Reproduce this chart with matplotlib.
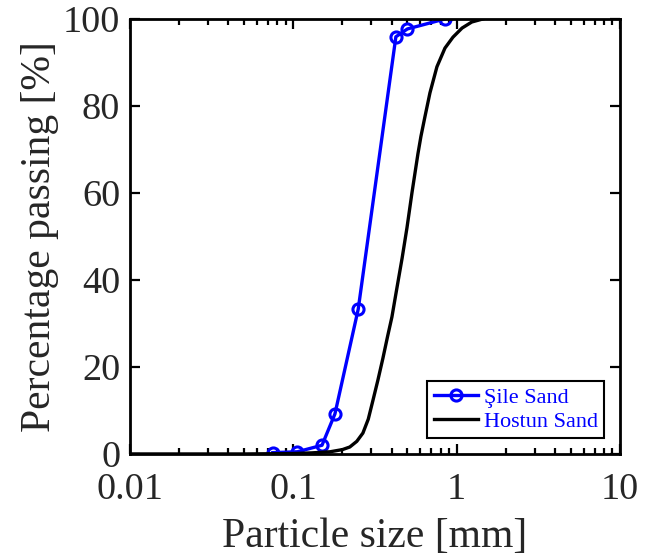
import matplotlib
matplotlib.use("Agg")
import matplotlib.pyplot as plt
from matplotlib.ticker import LogLocator, FixedLocator, NullFormatter

plt.rcParams['font.family'] = ['Liberation Serif', 'DejaVu Serif']

# Şile Sand (sieve data)
sile_size = [0.075, 0.106, 0.15, 0.18, 0.25, 0.425, 0.5, 0.85]
sile_pass = [0.3, 0.5, 2.0, 9.2, 33.3, 95.9, 97.7, 100.0]

# Hostun Sand (continuous gradation curve)
hostun_size = [0.01, 0.05, 0.1, 0.13, 0.168, 0.2, 0.222, 0.245, 0.267, 0.288, 0.308,
               0.33, 0.354, 0.378, 0.402, 0.426, 0.464, 0.497, 0.533, 0.58, 0.605,
               0.64, 0.687, 0.758, 0.849, 0.95, 1.08, 1.24, 1.45]
hostun_pass = [0.0, 0.0, 0.1, 0.25, 0.5, 1.0, 1.6, 2.9, 4.8, 8.0, 12.4,
               17.0, 22.0, 27.0, 31.5, 37.0, 45.0, 52.0, 60.0, 69.0, 73.0,
               77.5, 83.0, 89.0, 93.3, 95.8, 97.9, 99.3, 100.0]

fig = plt.figure(figsize=(6.56, 5.57), dpi=100)
ax = fig.add_axes([0.198, 0.185, 0.747, 0.781])

ax.plot(sile_size, sile_pass, color='#0000FF', lw=2.4, marker='o', ms=8,
        mfc='none', mec='#0000FF', mew=2.2, label='Şile Sand')
ax.plot(hostun_size, hostun_pass, color='black', lw=2.4, label='Hostun Sand')

ax.set_xscale('log')
ax.set_xlim(0.01, 10)
ax.set_ylim(0, 100)
ax.xaxis.set_major_locator(FixedLocator([0.01, 0.1, 1, 10]))
ax.set_xticklabels(['0.01', '0.1', '1', '10'])
ax.xaxis.set_minor_locator(LogLocator(base=10, subs=range(2, 10), numticks=20))
ax.xaxis.set_minor_formatter(NullFormatter())
ax.set_yticks([0, 20, 40, 60, 80, 100])

ax.tick_params(which='both', direction='in', top=True, right=True,
               labelsize=27.5, width=1.6, color='black', labelcolor='#262626')
ax.tick_params(which='major', length=7)
ax.tick_params(which='minor', length=4)
ax.tick_params(axis='x', pad=13)
ax.tick_params(axis='y', pad=7)
for s in ax.spines.values():
    s.set_linewidth(2.0)
    s.set_color('black')

ax.set_xlabel('Particle size [mm]', fontsize=30, color='#262626', labelpad=8)
ax.set_ylabel('Percentage passing [%]', fontsize=30, color='#262626', labelpad=3)

leg = ax.legend(loc='lower right', fontsize=16, frameon=True, fancybox=False,
                edgecolor='black', framealpha=1, handlelength=2.0,
                borderaxespad=0.7, borderpad=0.3, labelspacing=0.15, handletextpad=0.25)
leg.get_frame().set_linewidth(1.5)
for t in leg.get_texts():
    t.set_color('#0000FF')

fig.savefig('out.png', dpi=100)
